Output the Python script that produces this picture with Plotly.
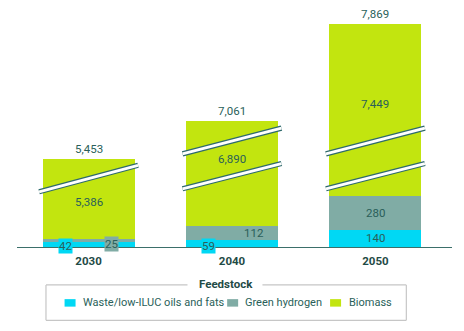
import plotly.graph_objects as go

# ---- data ----
years = ["2030", "2040", "2050"]
waste = [42, 59, 140]
hydrogen = [25, 112, 280]
biomass = [5386, 6890, 7449]
totals = [5453, 7061, 7869]
# portion of the biomass bar hidden by the axis break(s)
biomass_hidden = [4730, 6030, 6040]
series_names = ["Waste/low-ILUC oils and fats", "Green hydrogen", "Biomass"]

# ---- styles ----
C_WASTE = "#00d8f4"
C_H2 = "#80aca5"
C_BIO = "#c2e50f"
C_TEXT = "#2a5f5a"
C_DARK = "#1f4b46"
C_BREAK = "#2f6a6c"
FONT = "Roboto"

biomass_shown = [b - h for b, h in zip(biomass, biomass_hidden)]
xs = [0, 1, 2]
BW = 0.641

fig = go.Figure()
fig.add_bar(x=xs, y=waste, marker_color=C_WASTE, width=BW, name=series_names[0],
            marker_line_width=0, showlegend=False)
fig.add_bar(x=xs, y=hydrogen, marker_color=C_H2, width=BW, name=series_names[1],
            marker_line_width=0, showlegend=False)
fig.add_bar(x=xs, y=biomass_shown, marker_color=C_BIO, width=BW, name=series_names[2],
            marker_line_width=0, showlegend=False)

ann = []
def fmt(v):
    return f"{v:,}"

tops = [w + h + b for w, h, b in zip(waste, hydrogen, biomass_shown)]
# total labels
for x, t, v in zip(xs, tops, totals):
    ann.append(dict(x=x, y=t, text=fmt(v), showarrow=False, yanchor="bottom", yshift=1,
                    font=dict(family=FONT, size=11.5, color=C_TEXT)))

# biomass labels (positions within the broken bar)
bio_label_y = [365, 723, 1175]
for x, yv, v in zip(xs, bio_label_y, biomass):
    ann.append(dict(x=x, y=yv, text=fmt(v), showarrow=False,
                    font=dict(family=FONT, size=11.5, color=C_TEXT)))

# 2050 segments centered
ann.append(dict(x=2, y=waste[2] / 2, text=fmt(waste[2]), showarrow=False,
                font=dict(family=FONT, size=11.5, color=C_TEXT)))
ann.append(dict(x=2, y=waste[2] + hydrogen[2] / 2, text=fmt(hydrogen[2]), showarrow=False,
                font=dict(family=FONT, size=11.5, color=C_TEXT)))
# 2040 hydrogen
ann.append(dict(x=1, y=waste[1] + hydrogen[1] / 2, xshift=22.5, text=fmt(hydrogen[1]),
                showarrow=False, font=dict(family=FONT, size=11.5, color=C_TEXT)))
# small values with background boxes
for x, v in [(0, waste[0]), (1, waste[1])]:
    ann.append(dict(x=x, y=0, xshift=-23, yshift=1.5, text=fmt(v), showarrow=False,
                    bgcolor=C_WASTE, borderpad=0,
                    font=dict(family=FONT, size=11.5, color=C_TEXT)))
ann.append(dict(x=0, y=waste[0] + hydrogen[0], xshift=22.7, yshift=-5, text=fmt(hydrogen[0]),
                showarrow=False, bgcolor=C_H2, borderpad=0,
                font=dict(family=FONT, size=11.5, color=C_TEXT)))

# axis breaks (decorative)
shapes = []
OV = 0.345
breaks = [(0, 452, 669), (1, 763, 974), (1, 477, 684), (2, 763, 974), (2, 477, 684)]
for x, y0, y1 in breaks:
    shapes.append(dict(type="line", xref="x", yref="y", x0=x - OV, x1=x + OV, y0=y0, y1=y1,
                       line=dict(color=C_BREAK, width=5.2), layer="above"))
    shapes.append(dict(type="line", xref="x", yref="y", x0=x - OV, x1=x + OV, y0=y0, y1=y1,
                       line=dict(color="white", width=2.8), layer="above"))

# manual legend box with title (pixel positions -> paper coords of the plot area)
ML, MR, MT, MB = 16.7, 12, 0, 83.7
PW = 464 - ML - MR
PH = 331 - MT - MB
BOX = "#c6c6c6"
def px_x(p):
    return (p - ML) / PW
def px_y(p):
    return (331 - MB - p) / PH
L, R, T, B = 45.7, 406.3, 285.3, 320.7
for (x0, y0, x1, y1) in [(L, T, 187.3, T), (262.3, T, R, T), (L, B, R, B), (L, T, L, B), (R, T, R, B)]:
    shapes.append(dict(type="line", xref="paper", yref="paper", x0=px_x(x0), x1=px_x(x1),
                       y0=px_y(y0), y1=px_y(y1), line=dict(color=BOX, width=1.2)))
ann.append(dict(xref="paper", yref="paper", x=px_x(225.5), y=px_y(284.5), text="<b>Feedstock</b>",
                xanchor="center", yanchor="middle",
                showarrow=False, font=dict(family=FONT, size=11.5, color=C_DARK)))
leg_items = [(64.3, 80.3, C_WASTE), (227, 242.7, C_H2), (330, 346.7, C_BIO)]
for (sx, tx, c), name in zip(leg_items, series_names):
    shapes.append(dict(type="rect", xref="paper", yref="paper", x0=px_x(sx), x1=px_x(sx + 11),
                       y0=px_y(307), y1=px_y(299.5), fillcolor=c, line=dict(width=0)))
    ann.append(dict(xref="paper", yref="paper", x=px_x(tx), y=px_y(303.2), text=name,
                    xanchor="left", yanchor="middle", showarrow=False,
                    font=dict(family=FONT, size=11, color=C_TEXT)))

fig.update_layout(
    barmode="stack",
    width=464, height=331,
    margin=dict(l=ML, r=MR, t=MT, b=MB),
    paper_bgcolor="white", plot_bgcolor="white",
    annotations=ann, shapes=shapes,
    xaxis=dict(tickmode="array", tickvals=xs, ticktext=[f"<b>{y}</b>" for y in years],
               range=[-0.499, 2.534], showline=True, linecolor="#3b6f6a", linewidth=1,
               showgrid=False, zeroline=False, ticks="", ticklabelstandoff=3,
               tickfont=dict(family=FONT, size=11.5, color=C_DARK)),
    yaxis=dict(range=[0, 2024], visible=False, showgrid=False, zeroline=False),
    showlegend=False,
)
fig.write_html("out.html")
